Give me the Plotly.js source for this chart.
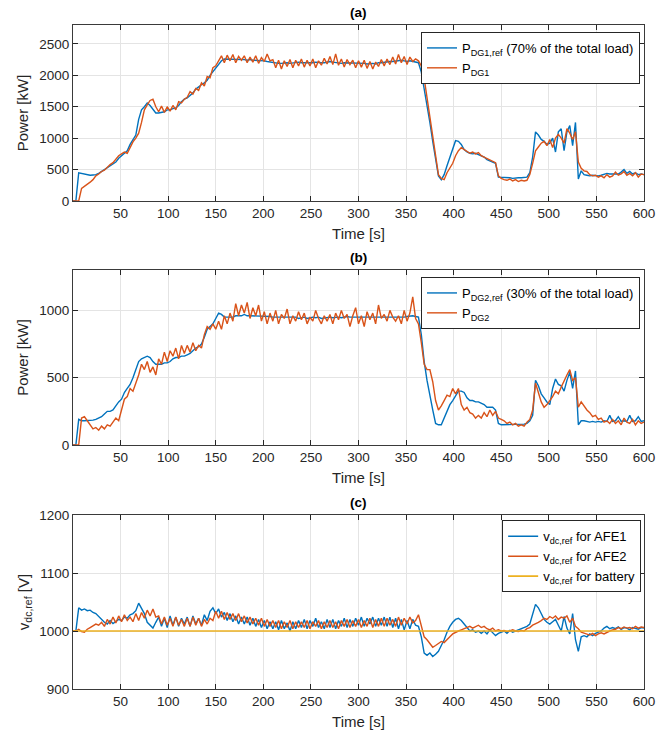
<!DOCTYPE html>
<html>
<head>
<meta charset="utf-8">
<script src="https://cdn.plot.ly/plotly-3.0.1.min.js"></script>
<style>html,body{margin:0;padding:0;background:#fff;} #chart{width:672px;height:732px;}</style>
</head>
<body>
<div id="chart"></div>
<script>
// Sampling interval of all recorded series [s]
const sampleStep = 3;

// ---- (a) DG1 power [kW] ----
const pDG1ref = [
0,0,450,440,420,410,410,415,420,440,
470,500,530,550,580,620,680,720,760,800,
900,980,1050,1300,1450,1500,1560,1520,1450,1400,
1400,1410,1420,1450,1450,1470,1480,1520,1580,1620,
1640,1680,1720,1780,1820,1850,1880,1920,2000,2060,
2120,2180,2230,2260,2260,2250,2260,2250,2260,2250,
2250,2240,2250,2240,2240,2230,2230,2230,2220,2210,
2200,2200,2190,2190,2200,2200,2190,2200,2200,2210,
2200,2200,2190,2200,2200,2210,2200,2200,2200,2210,
2220,2210,2200,2200,2190,2200,2200,2200,2190,2200,
2200,2190,2190,2180,2190,2190,2180,2200,2200,2210,
2210,2220,2220,2230,2230,2240,2230,2220,2230,2220,
2220,2200,2050,1800,1500,1250,950,650,400,340,
420,560,700,850,960,950,900,820,780,760,
750,760,740,730,700,660,640,620,600,380,
380,370,370,370,360,370,370,370,370,380,
450,700,1100,1050,980,950,900,920,1000,780,
1100,1150,800,1100,1200,880,1250,350,480,420,
410,400,410,400,400,410,430,440,430,430,
420,430,460,500,440,470,430,450,420,430,
420];
const pDG1 = [
0,0,0,200,230,260,300,340,400,430,
470,490,540,580,610,660,720,750,780,760,
860,940,1000,1080,1250,1450,1530,1600,1620,1500,
1420,1510,1410,1500,1430,1520,1450,1580,1560,1620,
1650,1740,1700,1790,1760,1880,1830,1980,1960,2120,
2150,2230,2310,2200,2320,2230,2330,2200,2300,2240,
2310,2200,2290,2210,2310,2190,2280,2220,2340,2230,
2250,2120,2240,2100,2230,2140,2250,2120,2240,2150,
2260,2130,2240,2150,2260,2120,2230,2160,2270,2180,
2300,2170,2340,2160,2260,2130,2250,2170,2240,2120,
2230,2130,2240,2110,2220,2100,2210,2140,2250,2150,
2260,2170,2290,2180,2330,2200,2300,2170,2290,2220,
2260,2230,2150,1950,1650,1300,1000,680,420,360,
340,450,520,600,720,800,850,820,790,760,
780,750,770,720,700,680,660,630,610,400,
360,340,330,350,320,340,310,330,320,330,
420,600,800,860,920,950,880,980,850,1000,
1060,1000,920,1150,1080,980,1100,620,520,480,
470,420,400,410,380,400,370,420,380,400,
460,410,430,470,410,440,400,450,380,430,
420];

// ---- (b) DG2 power [kW] ----
const pDG2ref = [
0,0,190,180,180,180,180,185,190,200,
210,230,250,250,260,290,320,340,390,420,
450,500,560,620,640,650,660,650,620,600,
600,600,610,610,620,640,650,650,660,660,
670,680,700,720,730,750,800,860,880,900,
940,980,970,950,950,950,950,960,960,960,
970,960,960,960,960,955,955,960,955,955,
950,950,950,945,950,945,950,945,950,940,
945,950,940,945,950,945,950,940,945,950,
950,945,950,950,945,950,955,950,950,945,
950,950,945,950,950,950,945,950,950,950,
945,950,950,945,950,945,950,955,960,960,
955,950,820,620,480,360,260,160,150,150,
200,260,300,330,370,400,400,390,350,330,
330,320,320,310,300,280,280,280,260,160,
150,150,150,150,150,150,150,150,155,160,
180,220,480,440,380,350,320,300,420,490,
450,440,400,480,540,420,550,150,180,180,
175,170,175,170,175,170,180,175,220,175,
180,210,175,180,175,220,175,180,210,175,
180];
const pDG2 = [
0,0,0,200,210,180,150,120,130,110,
140,120,150,140,170,200,180,260,340,360,
420,400,460,520,600,560,620,540,580,520,
640,600,690,620,700,660,720,640,740,680,
740,690,760,700,740,720,820,880,860,900,
860,920,860,960,900,980,920,1050,960,1040,
980,1060,940,1020,960,1040,920,990,900,980,
920,1000,900,970,940,1010,900,960,920,990,
930,980,900,950,920,1000,940,900,960,920,
970,900,980,930,1000,940,970,880,960,1020,
900,960,880,990,930,980,900,1040,940,970,
920,1000,950,920,960,900,1000,920,980,1100,
940,900,760,600,560,560,470,330,260,290,
330,370,360,420,380,420,300,260,280,240,
230,200,220,200,240,210,260,220,250,200,
190,180,160,170,150,160,140,150,140,170,
190,260,460,380,320,280,300,330,360,400,
380,430,480,520,560,480,500,280,320,290,
260,240,210,220,190,200,170,180,160,190,
160,180,150,200,170,160,190,150,180,160,
170];

// ---- (c) DC voltage references [V] ----
const vAFE1 = [
1000,1000,1040,1036,1038,1035,1036,1032,1030,1025,
1020,1015,1012,1018,1013,1016,1020,1018,1024,1022,
1028,1030,1035,1048,1040,1030,1015,1010,1005,1015,
1024,1008,1022,1006,1026,1010,1024,1008,1022,1012,
1024,1008,1026,1012,1022,1010,1028,1018,1034,1040,
1030,1038,1024,1032,1018,1030,1016,1026,1012,1024,
1012,1024,1010,1022,1008,1020,1006,1018,1004,1016,
1004,1016,1002,1018,1004,1014,1000,1016,1004,1018,
1006,1020,1004,1018,1008,1022,1006,1016,1004,1020,
1006,1020,1004,1018,1008,1022,1006,1020,1008,1022,
1010,1024,1008,1022,1012,1024,1008,1022,1010,1024,
1008,1024,1006,1022,1004,1020,1002,1018,1004,1020,
1010,1008,990,962,958,962,956,960,965,975,
985,998,1008,1015,1020,1022,1018,1012,1005,1000,
1002,998,1000,996,1000,995,1002,996,992,996,
998,1000,996,1001,998,1000,1002,1004,1005,1008,
1012,1030,1046,1040,1030,1020,1015,1012,1016,1020,
1010,1000,1025,1005,995,1030,985,965,990,992,
990,995,992,996,998,1000,1005,1008,1004,1006,
1004,1007,1003,1006,1005,1002,1006,1004,1003,1006,
1005];
const vAFE2 = [
1000,1000,1003,999,998,1003,1006,1009,1012,1010,
1015,1008,1020,1012,1024,1014,1026,1016,1028,1018,
1024,1016,1030,1018,1032,1022,1036,1026,1038,1024,
1026,1012,1024,1010,1022,1008,1024,1010,1020,1008,
1022,1008,1024,1010,1022,1008,1020,1012,1022,1018,
1034,1022,1034,1020,1032,1020,1030,1018,1030,1016,
1026,1014,1024,1012,1022,1010,1022,1008,1020,1008,
1018,1006,1018,1004,1016,1006,1018,1004,1016,1006,
1016,1006,1018,1004,1016,1008,1018,1004,1016,1006,
1018,1006,1016,1004,1018,1008,1020,1006,1018,1008,
1020,1006,1018,1008,1022,1006,1020,1008,1022,1008,
1022,1010,1020,1008,1024,1010,1022,1012,1024,1014,
1018,1028,1010,990,985,978,972,975,978,982,
980,986,990,995,998,1000,1002,1004,1006,1008,
1005,1008,1010,1006,1008,1004,1002,1005,1000,1002,
1000,1001,999,1000,1002,1000,999,1001,1000,1004,
1006,1010,1012,1015,1018,1022,1020,1025,1022,1026,
1020,1024,1022,1026,1015,1022,1008,1004,998,996,
995,993,996,992,995,997,995,998,1000,1002,
1003,1006,1004,1007,1005,1006,1004,1008,1005,1007,
1006];
const batteryTime = [0, 600];
const vBattery = [1000, 1000];

// ---- labels ----
const xTicks = [50,100,150,200,250,300,350,400,450,500,550,600];
const names = {
  dg1ref: 'P<sub>DG1,ref</sub> (70% of the total load)',
  dg1: 'P<sub>DG1</sub>',
  dg2ref: 'P<sub>DG2,ref</sub> (30% of the total load)',
  dg2: 'P<sub>DG2</sub>',
  afe1: 'v<sub>dc,ref</sub> for AFE1',
  afe2: 'v<sub>dc,ref</sub> for AFE2',
  batt: 'v<sub>dc,ref</sub> for battery'
};

const timeOf = arr => arr.map((_, i) => i * sampleStep);

const BLUE = '#0072BD', ORANGE = '#D95319', YELLOW = '#EDB120';
const LW = 1.4;
const traces = [
  {x: timeOf(pDG1ref), y: pDG1ref, name: names.dg1ref, line:{color:BLUE,width:LW}, xaxis:'x', yaxis:'y', legend:'legend'},
  {x: timeOf(pDG1), y: pDG1, name: names.dg1, line:{color:ORANGE,width:LW}, xaxis:'x', yaxis:'y', legend:'legend'},
  {x: timeOf(pDG2ref), y: pDG2ref, name: names.dg2ref, line:{color:BLUE,width:LW}, xaxis:'x2', yaxis:'y2', legend:'legend2'},
  {x: timeOf(pDG2), y: pDG2, name: names.dg2, line:{color:ORANGE,width:LW}, xaxis:'x2', yaxis:'y2', legend:'legend2'},
  {x: timeOf(vAFE1), y: vAFE1, name: names.afe1, line:{color:BLUE,width:LW}, xaxis:'x3', yaxis:'y3', legend:'legend3'},
  {x: timeOf(vAFE2), y: vAFE2, name: names.afe2, line:{color:ORANGE,width:LW}, xaxis:'x3', yaxis:'y3', legend:'legend3'},
  {x: batteryTime, y: vBattery, name: names.batt, line:{color:YELLOW,width:1.6}, xaxis:'x3', yaxis:'y3', legend:'legend3'}
].map(t => Object.assign({type:'scatter', mode:'lines'}, t));

const FONT = 'Liberation Sans, Arial, Helvetica, sans-serif';
const AX = '#262626';
const baseX = {
  range:[0,600], tickvals:xTicks, ticks:'inside', ticklen:5, tickcolor:AX,
  showline:true, linecolor:'#3a3a3a', linewidth:1, mirror:'ticks',
  showgrid:true, gridcolor:'#e4e4e4', zeroline:false,
  tickfont:{size:13.5, color:AX, family:FONT},
  title:{text:'Time [s]', font:{size:15, color:AX, family:FONT}, standoff:8}
};
const baseY = {
  ticks:'inside', ticklen:5, tickcolor:AX,
  showline:true, linecolor:'#3a3a3a', linewidth:1, mirror:'ticks',
  showgrid:true, gridcolor:'#e4e4e4', zeroline:false,
  tickfont:{size:13.5, color:AX, family:FONT}
};
const yTitle = txt => ({text:txt, font:{size:15, color:AX, family:FONT}, standoff:6});
const legendBase = {
  bgcolor:'#ffffff', bordercolor:'#262626', borderwidth:1,
  font:{size:13, color:'#000', family:FONT}, xanchor:'right', yanchor:'top',
  tracegroupgap:0
};

const layout = {
  width:672, height:732,
  margin:{l:73, r:28, t:25, b:43},
  paper_bgcolor:'#ffffff', plot_bgcolor:'#ffffff',
  font:{family:FONT, color:AX},
  showlegend:true,
  xaxis: Object.assign({}, baseX, {anchor:'y'}),
  xaxis2: Object.assign({}, baseX, {anchor:'y2'}),
  xaxis3: Object.assign({}, baseX, {anchor:'y3'}),
  yaxis: Object.assign({}, baseY, {anchor:'x', domain:[0.7349,1], range:[0,2800], tickvals:[0,500,1000,1500,2000,2500], title:yTitle('Power [kW]')}),
  yaxis2: Object.assign({}, baseY, {anchor:'x2', domain:[0.3675,0.6310], range:[0,1300], tickvals:[0,500,1000], title:yTitle('Power [kW]')}),
  yaxis3: Object.assign({}, baseY, {anchor:'x3', domain:[0,0.2620], range:[900,1200], tickvals:[900,1000,1100,1200], title:yTitle('v<sub>dc,ref</sub> [V]')}),
  legend: Object.assign({}, legendBase, {x:0.993, y:0.9895}),
  legend2: Object.assign({}, legendBase, {x:0.993, y:0.6205}),
  legend3: Object.assign({}, legendBase, {x:0.995, y:0.2540}),
  annotations: [
    {text:'<b>(a)</b>', xref:'paper', yref:'paper', x:0.5, y:1, yanchor:'bottom', yshift:3, showarrow:false, font:{size:13.5, color:'#000', family:FONT}},
    {text:'<b>(b)</b>', xref:'paper', yref:'paper', x:0.5, y:0.6310, yanchor:'bottom', yshift:3, showarrow:false, font:{size:13.5, color:'#000', family:FONT}},
    {text:'<b>(c)</b>', xref:'paper', yref:'paper', x:0.5, y:0.2620, yanchor:'bottom', yshift:3, showarrow:false, font:{size:13.5, color:'#000', family:FONT}}
  ]
};

Plotly.newPlot('chart', traces, layout, {displayModeBar:false, staticPlot:true});
</script>
</body>
</html>
